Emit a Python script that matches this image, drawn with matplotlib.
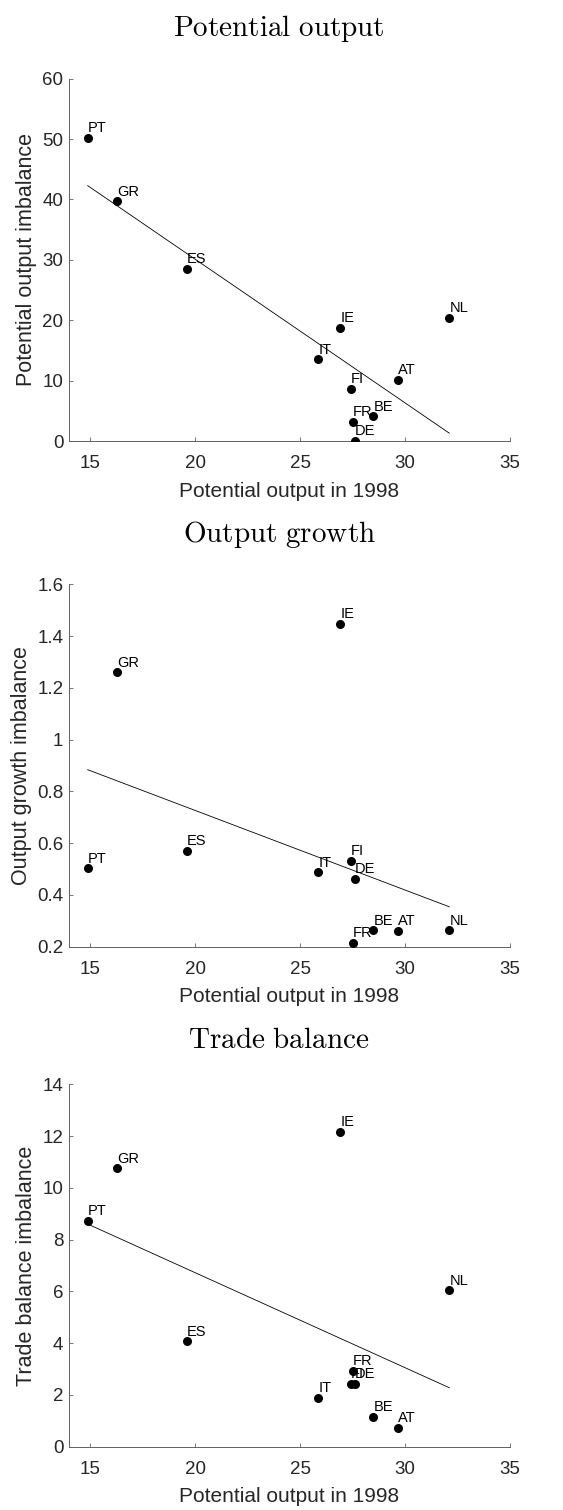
import numpy as np
import matplotlib.pyplot as plt

# country codes and potential output in 1998 (shared x axis)
countries = ['PT', 'GR', 'ES', 'IT', 'IE', 'FI', 'FR', 'DE', 'BE', 'AT', 'NL']
pot_1998 = [14.89, 16.30, 19.60, 25.87, 26.92, 27.41, 27.52, 27.62, 28.49, 29.65, 32.11]

# imbalance measures
pot_imb = [50.25, 39.68, 28.51, 13.54, 18.71, 8.70, 3.19, 0.0, 4.07, 10.18, 20.36]
growth_imb = [0.503, 1.260, 0.570, 0.487, 1.447, 0.532, 0.214, 0.461, 0.263, 0.261, 0.263]
trade_imb = [8.73, 10.75, 4.07, 1.88, 12.17, 2.42, 2.92, 2.42, 1.15, 0.73, 6.04]

titles = ['Potential output', 'Output growth', 'Trade balance']
ylabels = ['Potential output imbalance', 'Output growth imbalance', 'Trade balance imbalance']
ylims = [(0, 60), (0.2, 1.6), (0, 14)]
yticks = [[0, 10, 20, 30, 40, 50, 60],
          [0.2, 0.4, 0.6, 0.8, 1, 1.2, 1.4, 1.6],
          [0, 2, 4, 6, 8, 10, 12, 14]]
ytick_labels = [['0', '10', '20', '30', '40', '50', '60'],
                ['0.2', '0.4', '0.6', '0.8', '1', '1.2', '1.4', '1.6'],
                ['0', '2', '4', '6', '8', '10', '12', '14']]
xticks = [15, 20, 25, 30, 35]

plt.rcParams['font.family'] = ['Liberation Sans', 'DejaVu Sans']
plt.rcParams['mathtext.fontset'] = 'cm'

grey = '#262626'
axis_grey = '#606060'
fig = plt.figure(figsize=(5.63, 15.10), dpi=100)

bottoms = [0.7079, 0.3730, 0.0419]
title_y = [0.9764, 0.6413, 0.3058]
x = np.array(pot_1998)

for i, yvals in enumerate([pot_imb, growth_imb, trade_imb]):
    ax = fig.add_axes([0.1226, bottoms[i], 0.7833, 0.2400])
    y = np.array(yvals)

    # OLS fit over the range of the data
    b, a = np.polyfit(x, y, 1)
    xf = np.array([x.min(), x.max()])
    ax.plot(xf, a + b * xf, color='black', lw=0.6)

    ax.scatter(x, y, s=30, color='black', zorder=3)
    for c, xi, yi in zip(countries, x, y):
        ax.annotate(c, (xi, yi), xytext=(0, 2), textcoords='offset points',
                    fontsize=10.5, color='black', va='bottom', ha='left')

    ax.set_xlim(14, 35)
    ax.set_ylim(*ylims[i])
    ax.set_xticks(xticks)
    ax.set_xticklabels([str(t) for t in xticks])
    ax.set_yticks(yticks[i])
    ax.set_yticklabels(ytick_labels[i])
    ax.tick_params(direction='in', length=3, width=0.6, color=axis_grey,
                   labelcolor=grey, labelsize=13.5)
    ax.tick_params(axis='x', pad=10)
    ax.tick_params(axis='y', pad=4)
    for side in ['top', 'right']:
        ax.spines[side].set_visible(False)
    for side in ['left', 'bottom']:
        ax.spines[side].set_color(axis_grey)
        ax.spines[side].set_linewidth(0.7)
    ax.set_xlabel('Potential output in 1998', fontsize=15, color=grey, labelpad=7)
    ax.set_ylabel(ylabels[i], fontsize=15.5, color=grey, labelpad=4)

    fig.text(0.4956, title_y[i], r'$\mathrm{' + titles[i].replace(' ', r'\ ') + '}$',
             fontsize=21, ha='center', va='baseline')

fig.savefig('out.png', dpi=100)
